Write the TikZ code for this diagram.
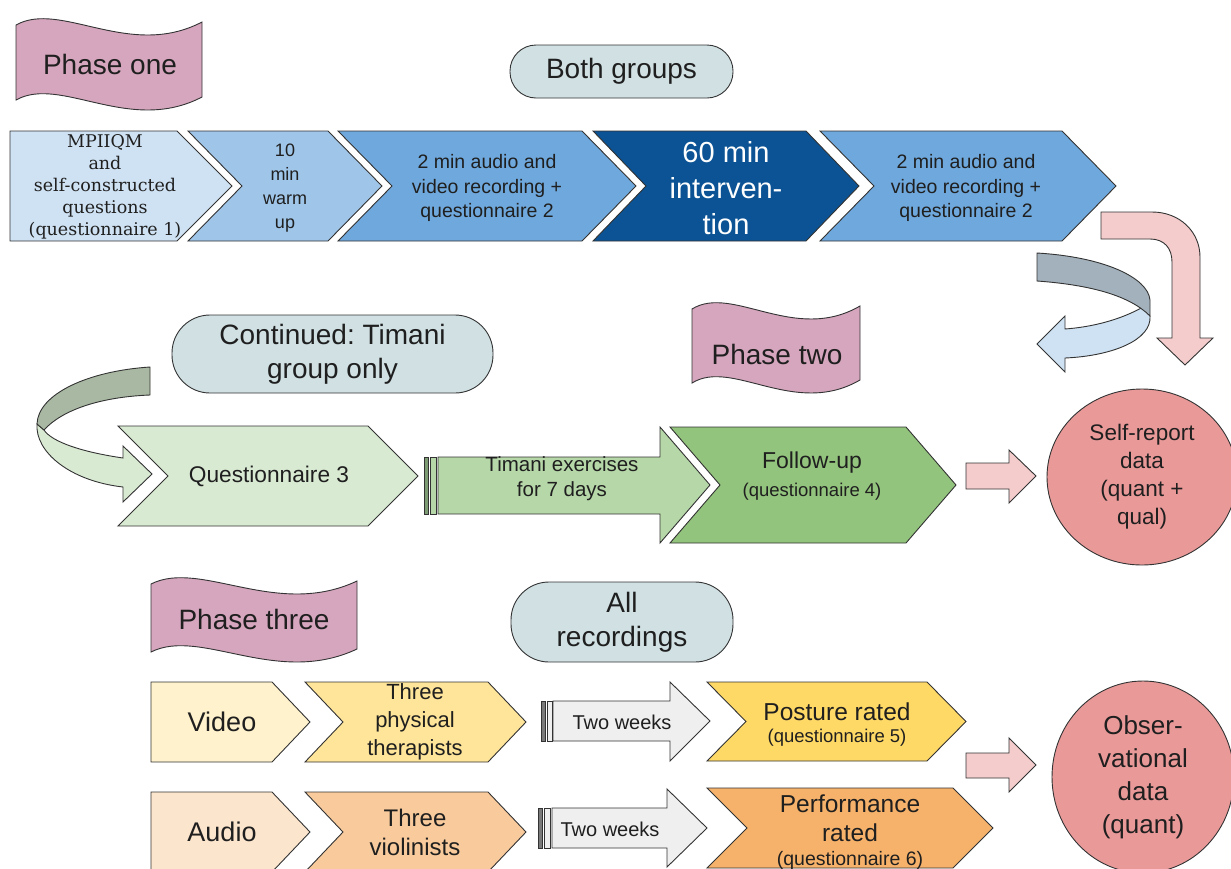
\documentclass[tikz,border=0pt]{standalone}
\usepackage{fontspec}
\setmainfont{Liberation Sans}
\newfontfamily\serifx{DejaVu Serif}
\usetikzlibrary{shapes.geometric}
\frenchspacing
\definecolor{strokec}{HTML}{333333}
\definecolor{textc}{HTML}{1F1F1F}
\definecolor{bannerc}{HTML}{D5A6BD}
\definecolor{pillc}{HTML}{D0E0E3}
\definecolor{blueA}{HTML}{CFE2F3}
\definecolor{blueB}{HTML}{9FC5E8}
\definecolor{blueC}{HTML}{6FA8DC}
\definecolor{blueD}{HTML}{0B5394}
\definecolor{pinkA}{HTML}{F4CCCC}
\definecolor{pinkB}{HTML}{EA9999}
\definecolor{greenA}{HTML}{D9EAD3}
\definecolor{greenB}{HTML}{B6D7A8}
\definecolor{greenC}{HTML}{93C47D}
\definecolor{greenS}{HTML}{7E9C74}
\definecolor{sage}{HTML}{A8B8A2}
\definecolor{slate}{HTML}{A3B1BC}
\definecolor{yelA}{HTML}{FFF2CC}
\definecolor{yelB}{HTML}{FFE599}
\definecolor{yelC}{HTML}{FFD966}
\definecolor{orA}{HTML}{FCE5CD}
\definecolor{orB}{HTML}{F9CB9C}
\definecolor{orC}{HTML}{F6B26B}
\definecolor{grayA}{HTML}{EFEFEF}
\definecolor{grayS}{HTML}{7A7A7A}
\newcommand\fs[2]{\fontsize{#1}{#2}\selectfont}
\newcommand\chevron[6]{\path[shp,fill=#6] (#1,#3) -- (#2,#3) -- ({#2+#5},{(#3+#4)/2}) -- (#2,#4) -- (#1,#4) -- ({#1+#5},{(#3+#4)/2}) -- cycle;}
\newcommand\pentagon[6]{\path[shp,fill=#6] (#1,#3) -- (#2,#3) -- ({#2+#5},{(#3+#4)/2}) -- (#2,#4) -- (#1,#4) -- cycle;}
\newcommand\banner[4]{\path[shp,fill=bannerc] (#1,#2) .. controls ({#1+0.24*#3},{#2-25}) and ({#1+0.61*#3},{#2+35}) .. ({#1+#3},{#2-3}) -- ({#1+#3},{#2-3+#4}) .. controls ({#1+0.61*#3},{#2+35+#4}) and ({#1+0.24*#3},{#2-25+#4}) .. (#1,{#2+#4}) -- cycle;}
\begin{document}
\begin{tikzpicture}[x=1pt,y=-1pt,
  shp/.style={draw=strokec, line width=0.9pt, line join=miter},
  stripe/.style={draw=strokec, line width=0.6pt},
  txt/.style={align=center, inner sep=0pt, text=textc},
  pill/.style={shp, fill=pillc, inner sep=0pt, align=center, text=textc},
  blob/.style={shp, ellipse, fill=pinkB, inner sep=0pt, align=center, text=textc}]
\useasboundingbox (0,0) rectangle (1231,868);
\clip (0,0) rectangle (1231,868);

% banners
\banner{16}{25}{186}{75}
\node[txt,font=\fs{28}{34}] (p1) at (110,64) {Phase one};
\banner{692}{309}{168}{74}
\node[txt,font=\fs{28}{34}] (p2) at (777,354) {Phase two};
\banner{151}{584}{206}{68}
\node[txt,font=\fs{28}{34}] (p3) at (254,619) {Phase three};

% pills
\node[pill, minimum width=223pt, minimum height=53pt, rounded corners=26pt, font=\fs{28}{34}] (both) at (621.5,71.5) {\raisebox{-2pt}{Both groups}};
\node[pill, minimum width=321pt, minimum height=78pt, rounded corners=38pt, font=\fs{28}{34}] (cont) at (332.5,354) {Continued: Timani\\group only};
\node[pill, minimum width=222pt, minimum height=80pt, rounded corners=38pt, font=\fs{28}{34}] (allrec) at (622,622) {All\\recordings};

% row 1
\pentagon{10}{177}{131}{241}{55}{blueA}
\node[txt,font=\serifx\fs{17.5}{22}] (c1) at (105,187) {MPIIQM\\and\\self-constructed\\questions\\(questionnaire 1)};
\chevron{188}{328}{131}{241}{54}{blueB}
\node[txt,font=\fs{18}{24}] (c2) at (285,188) {10\\min\\warm\\up};
\chevron{338}{582}{131}{241}{54}{blueC}
\node[txt,font=\fs{19.5}{24.5}] (c3) at (487,188) {2 min audio and\\video recording +\\questionnaire 2};
\chevron{593}{806}{131}{241}{53}{blueD}
\node[txt,text=white,font=\fs{29}{36}] (c4) at (726,188) {60 min\\interven-\\tion};
\chevron{820}{1062}{131}{241}{54}{blueC}
\node[txt,font=\fs{19.5}{24.5}] (c5) at (966,188) {2 min audio and\\video recording +\\questionnaire 2};

% bent pink arrow
\path[shp,fill=pinkA] (1101,212) -- (1152,212) .. controls (1180,212) and (1200,232) .. (1200,257) -- (1200,338) -- (1213,338) -- (1185,365) -- (1157,338) -- (1172,338) -- (1172,262) .. controls (1172,248) and (1164,239) .. (1150,239) -- (1101,239) -- cycle;

% U-turn arrow
\path[shp,fill=blueA] (1143,307) .. controls (1120,320) and (1092,327) .. (1065,329) -- (1065,316) -- (1037,344) -- (1065,372) -- (1065,358) .. controls (1112,356) and (1152,340) .. (1150,316) -- cycle;
\path[shp,fill=slate] (1037,253) .. controls (1105,257) and (1148,278) .. (1150,300) -- (1150,316) .. controls (1130,296) and (1092,285) .. (1037,281) -- cycle;

% row 2
\path[shp,fill=greenA] (37,424) .. controls (35,452) and (70,481) .. (123,487) -- (123,502) -- (152,474) -- (123,446) -- (123,458) .. controls (82,452) and (52,442) .. (44,430) -- cycle;
\path[shp,fill=sage] (150,367) .. controls (88,371) and (38,394) .. (37,424) -- (44,430) .. controls (62,410) and (100,397) .. (150,395) -- cycle;

\chevron{118}{368}{426}{526}{50}{greenA}
\node[txt,font=\fs{22.7}{26}] (q3) at (269,476) {Questionnaire 3};

\path[stripe,fill=greenS] (424,457) rectangle (428,514);
\path[stripe,fill=greenB] (430,457) rectangle (436,514);
\path[shp,fill=greenB] (438,457) -- (660,457) -- (660,427) -- (710,485) -- (660,543) -- (660,514) -- (438,514) -- cycle;
\node[txt,font=\fs{20.5}{25}] (tim) at (562,479) {Timani exercises\\for 7 days};

\chevron{670}{906}{427}{543}{50}{greenC}
\node[txt,font=\fs{23}{26}] (fu) at (812,463) {Follow-up};
\node[txt,font=\fs{18.5}{21}] (fuq) at (812,492) {(questionnaire 4)};

\path[shp,fill=pinkA] (966,463) -- (1009,463) -- (1009,450) -- (1036,476) -- (1009,503) -- (1009,489) -- (966,489) -- cycle;
\node[blob, minimum width=190pt, minimum height=176pt, font=\fs{22.5}{28}] (self) at (1142,477) {Self-report\\data\\(quant +\\qual)};

% row 3
\pentagon{151}{272}{682}{762}{38}{yelA}
\node[txt,font=\fs{27}{32}] (vid) at (222,722) {Video};
\chevron{305}{488}{682}{762}{38}{yelB}
\node[txt,font=\fs{22}{28}] (ther) at (415,722) {Three\\physical\\therapists};
\path[stripe,fill=grayS] (541,701) rectangle (545,741);
\path[stripe,fill=grayA] (547,701) rectangle (552,741);
\path[shp,fill=grayA] (553,701) -- (670,701) -- (670,682) -- (710,721) -- (670,761) -- (670,741) -- (553,741) -- cycle;
\node[txt,font=\fs{20}{24}] (tw1) at (622,722) {Two weeks};
\chevron{707}{927}{682}{761}{39}{yelC}
\node[txt,font=\fs{24.5}{27}] (pos) at (837,712) {Posture rated};
\node[txt,font=\fs{18.5}{21}] (posq) at (837,738) {(questionnaire 5)};
\path[shp,fill=pinkA] (966,753) -- (1009,753) -- (1009,738) -- (1036,765) -- (1009,792) -- (1009,778) -- (966,778) -- cycle;
\node[blob, minimum width=182pt, minimum height=192pt, font=\fs{26}{33}] (obs) at (1143,777) {Obser-\\vational\\data\\(quant)};

% row 4
\pentagon{151}{272}{792}{872}{38}{orA}
\node[txt,font=\fs{27}{32}] (aud) at (222,832) {Audio};
\chevron{305}{488}{792}{872}{38}{orB}
\node[txt,font=\fs{24}{29}] (viol) at (415,832) {Three\\violinists};
\path[stripe,fill=grayS] (538,808) rectangle (542,848);
\path[stripe,fill=grayA] (544,808) rectangle (550,848);
\path[shp,fill=grayA] (552,808) -- (667,808) -- (667,789) -- (707,828) -- (667,867) -- (667,848) -- (552,848) -- cycle;
\node[txt,font=\fs{20}{24}] (tw2) at (610,829) {Two weeks};
\chevron{707}{953}{788}{868}{40}{orC}
\node[txt,font=\fs{24.5}{29}] (perf) at (850,818) {Performance\\rated};
\node[txt,font=\fs{19.5}{21}] (perfq) at (850,860) {(questionnaire 6)};
\end{tikzpicture}
\end{document}
